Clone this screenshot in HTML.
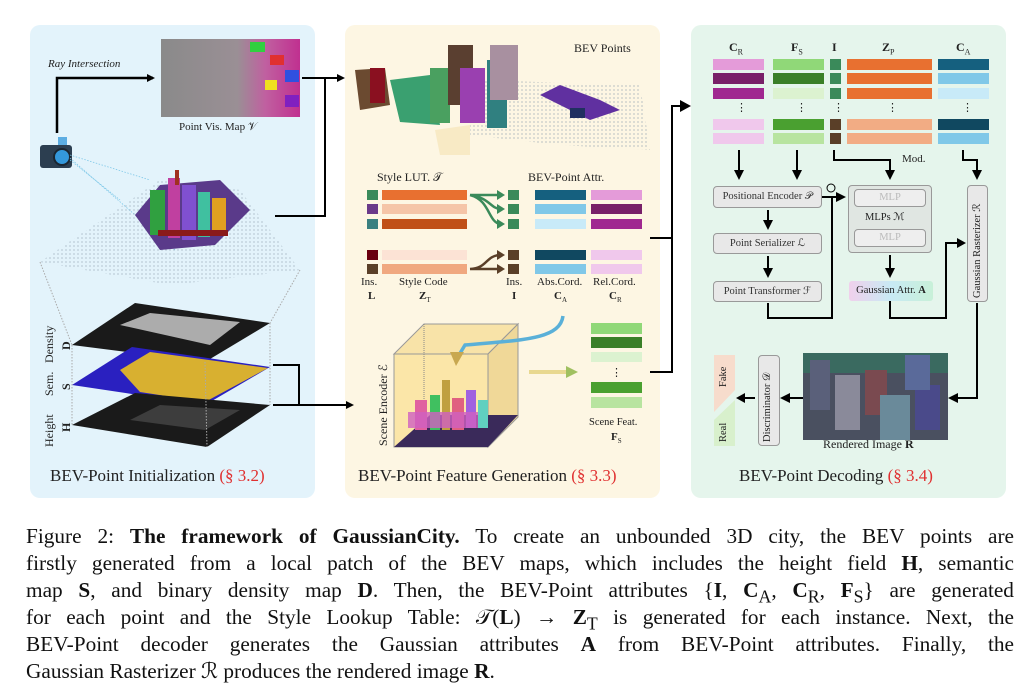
<!DOCTYPE html>
<html><head><meta charset="utf-8"><style>
body{margin:0;width:1031px;height:697px;background:#fff;position:relative;overflow:hidden;font-family:"Liberation Serif",serif;color:#222}
.a{position:absolute}
.t{position:absolute;font-size:11px;white-space:nowrap}
.r{position:absolute;font-size:11px;white-space:nowrap;transform:rotate(-90deg);transform-origin:left top}
.box{position:absolute;background:#e8e8e8;border:1px solid #999;border-radius:4px;font-size:10.5px;text-align:center;box-sizing:border-box;color:#333}
.cap{position:absolute;left:26px;width:988px;font-size:21.3px;text-align:justify;text-align-last:justify;white-space:nowrap;color:#111}
</style></head><body>
<div class="a" style="left:30px;top:25px;width:285px;height:473px;background:#e3f3fb;border-radius:10px"></div>
<div class="a" style="left:345px;top:25px;width:315px;height:473px;background:#fdf6e3;border-radius:10px"></div>
<div class="a" style="left:691px;top:25px;width:315px;height:473px;background:#e5f5ec;border-radius:10px"></div>

<svg class="a" style="left:0;top:0" width="1031" height="697">
<defs><marker id="ar" markerWidth="8" markerHeight="8" refX="6" refY="4" orient="auto" markerUnits="userSpaceOnUse"><path d="M0,0 L8,4 L0,8z" fill="#000"/></marker>
<linearGradient id="ns" x1="0" x2="1"><stop offset="0" stop-color="#8a8a8a"/><stop offset=".55" stop-color="#9a8f95"/><stop offset=".75" stop-color="#c060a0"/><stop offset="1" stop-color="#c03090"/></linearGradient>
<pattern id="dots" width="4" height="4" patternUnits="userSpaceOnUse"><circle cx="2" cy="2" r=".6" fill="#8899aa"/></pattern></defs>
<rect x="161" y="39" width="139" height="78" fill="url(#ns)"/>
<rect x="250" y="42" width="15" height="10" fill="#30d040"/><rect x="270" y="55" width="14" height="10" fill="#e03030"/><rect x="285" y="70" width="14" height="12" fill="#3050e0"/><rect x="265" y="80" width="12" height="10" fill="#f0e020"/><rect x="285" y="95" width="14" height="12" fill="#8020c0"/>
<rect x="40" y="145" width="32" height="23" rx="3" fill="#2c3e50"/><rect x="58" y="137" width="9" height="8" fill="#5dade2"/><circle cx="62" cy="157" r="8" fill="#3498db" stroke="#1b2631" stroke-width="2"/>
<path d="M70,155 L150,180 M70,158 L175,250 M70,160 L120,200" stroke="#7fc8e8" stroke-dasharray="1.5 1.5" stroke-width=".8"/>
<polygon points="40,262 160,180 240,190 300,270 170,285" fill="url(#dots)" opacity=".9"/>
<polygon points="135,215 160,185 220,180 250,210 215,245 160,250" fill="#5a3a8a"/>
<rect x="150" y="190" width="15" height="45" fill="#30a040"/><rect x="168" y="178" width="12" height="60" fill="#c040a0"/><rect x="182" y="185" width="14" height="55" fill="#8050d0"/><rect x="198" y="192" width="12" height="45" fill="#40c0a0"/><rect x="212" y="198" width="14" height="35" fill="#e0a020"/><rect x="175" y="170" width="4" height="15" fill="#a03020"/><rect x="158" y="230" width="70" height="6" fill="#8a1a1a"/>
<polygon points="72,345 135,303 270,323 205,362" fill="#1a1a1a"/>
<polygon points="120,325 150,313 240,322 210,345" fill="#ddd" opacity=".75"/>
<polygon points="72,385 132,347 270,367 205,405" fill="#2a20c0"/>
<polygon points="120,370 150,352 268,368 205,402 140,392" fill="#d8b030"/>
<polygon points="72,425 135,393 270,405 207,447" fill="#1a1a1a"/>
<polygon points="130,420 160,405 240,410 205,430" fill="#555" opacity=".6"/>
<path d="M40,262 L72,345 M300,270 L270,323" stroke="#aaa" stroke-dasharray="1.5 1.5"/>
<path d="M72,345 L72,425 M205,362 L207,447 M270,323 L270,405" stroke="#aaa" stroke-dasharray="1.5 1.5"/>
<path d="M57,133 L57,78 L153,78" stroke="#000" stroke-width="2.5" fill="none" marker-end="url(#ar)"/>
<path d="M275,216 L325,216 L325,78 M302,78 L343,78" stroke="#000" stroke-width="2" fill="none" marker-end="url(#ar)"/>
<path d="M273,365 L299,365 L299,405 M273,405 L352,405" stroke="#000" stroke-width="2" fill="none" marker-end="url(#ar)"/>
<polygon points="470,80 640,85 650,150 560,145 470,135" fill="url(#dots)"/>
<polygon points="355,70 385,68 390,105 360,110" fill="#6b4a30"/><rect x="370" y="68" width="15" height="35" fill="#8a1020"/>
<polygon points="390,80 430,75 440,125 400,122" fill="#3aa070"/><rect x="430" y="68" width="20" height="55" fill="#4aa060"/>
<rect x="448" y="45" width="25" height="60" fill="#5a3f30"/><rect x="460" y="68" width="25" height="55" fill="#9a40b0"/><rect x="487" y="60" width="20" height="68" fill="#308080"/><rect x="490" y="45" width="28" height="55" fill="#a890a0"/>
<polygon points="540,95 560,85 600,100 620,110 590,120" fill="#6030a0"/><rect x="570" y="108" width="15" height="10" fill="#203060"/>
<polygon points="435,130 470,125 470,155 440,155" fill="#f5e6b8" opacity=".7"/>
<g>
<rect x="367" y="190" width="11" height="10" fill="#3a8a5a"/><rect x="367" y="204" width="11" height="10" fill="#6a3a8a"/><rect x="367" y="219" width="11" height="10" fill="#3a8080"/><rect x="367" y="250" width="11" height="10" fill="#6a0010"/><rect x="367" y="264" width="11" height="10" fill="#5a3f28"/>
<rect x="382" y="190" width="85" height="10" fill="#e87030"/><rect x="382" y="204" width="85" height="10" fill="#f5c5a8"/><rect x="382" y="219" width="85" height="10" fill="#c05018"/><rect x="382" y="250" width="85" height="10" fill="#fce3d5"/><rect x="382" y="264" width="85" height="10" fill="#f0a880"/>
<rect x="508" y="190" width="11" height="10" fill="#3a8a5a"/><rect x="508" y="204" width="11" height="10" fill="#3a8a5a"/><rect x="508" y="219" width="11" height="10" fill="#3a8a5a"/><rect x="508" y="250" width="11" height="10" fill="#5a3f28"/><rect x="508" y="264" width="11" height="10" fill="#5a3f28"/>
<rect x="535" y="190" width="51" height="10" fill="#15607f"/><rect x="535" y="204" width="51" height="10" fill="#80c8e8"/><rect x="535" y="219" width="51" height="10" fill="#c8eaf8"/><rect x="535" y="250" width="51" height="10" fill="#104860"/><rect x="535" y="264" width="51" height="10" fill="#80c8e8"/>
<rect x="591" y="190" width="51" height="10" fill="#e49bd9"/><rect x="591" y="204" width="51" height="10" fill="#782068"/><rect x="591" y="219" width="51" height="10" fill="#a02890"/><rect x="591" y="250" width="51" height="10" fill="#f0c8ec"/><rect x="591" y="264" width="51" height="10" fill="#f0c8ec"/>
<path d="M470,195 C485,195 490,195 500,195 M470,195 C490,198 490,208 500,209 M470,195 C490,200 488,222 500,224" stroke="#3a8a5a" stroke-width="2.5" fill="none"/>
<path d="M497,190 L505,195 L497,200z M497,204 L505,209 L497,214z M497,219 L505,224 L497,229z" fill="#3a8a5a"/>
<path d="M470,269 L500,269 M470,269 C488,268 485,256 500,255" stroke="#5a3f28" stroke-width="2.5" fill="none"/>
<path d="M497,264 L505,269 L497,274z M497,250 L505,255 L497,260z" fill="#5a3f28"/>
</g>
<polygon points="394,354 424,324 518,324 488,354" fill="#f8e3a8" stroke="#999"/>
<polygon points="488,354 518,324 518,417 488,447" fill="#f0d898" stroke="#999"/>
<rect x="394" y="354" width="94" height="93" fill="#fbe6a8" stroke="#999"/>
<path d="M424,324 L424,415" stroke="#888" stroke-dasharray="1 1"/>
<polygon points="394,447 430,415 518,415 488,447" fill="#3a2a5a"/>
<rect x="415" y="400" width="12" height="30" fill="#e060a0"/><rect x="430" y="395" width="10" height="35" fill="#40c060"/><rect x="442" y="380" width="8" height="50" fill="#c0a040"/><rect x="452" y="398" width="12" height="32" fill="#e06080"/><rect x="466" y="390" width="10" height="38" fill="#a060e0"/><rect x="478" y="400" width="10" height="28" fill="#60d0c0"/><rect x="408" y="412" width="70" height="16" fill="#d060c0" opacity=".8"/>
<path d="M563,316 C560,340 520,340 465,345 L456,360" stroke="#5ab0d8" stroke-width="3.5" fill="none"/>
<path d="M450,352 L456,366 L464,352z" fill="#c8a850"/>
<path d="M529,372 L568,372" stroke="#e8d890" stroke-width="4"/><path d="M566,366 L578,372 L566,378z" fill="#a0c060"/>
<rect x="591" y="323" width="51" height="11" fill="#90d878"/><rect x="591" y="337" width="51" height="11" fill="#3a7f28"/><rect x="591" y="352" width="51" height="10" fill="#dcf2d0"/><rect x="591" y="382" width="51" height="11" fill="#4aa030"/><rect x="591" y="397" width="51" height="11" fill="#b8e4a0"/>
<path d="M650,238 L672,238 L672,106 L688,106 M650,372 L672,372 L672,238" stroke="#000" stroke-width="2" fill="none"/>
<path d="M680,100 L691,106 L680,112z" fill="#000"/>
<g>
<rect x="713" y="59" width="51" height="11" fill="#e49bd9"/><rect x="713" y="73" width="51" height="11" fill="#782068"/><rect x="713" y="88" width="51" height="11" fill="#a02890"/><rect x="713" y="119" width="51" height="11" fill="#f0c8ec"/><rect x="713" y="133" width="51" height="11" fill="#f0c8ec"/>
<rect x="773" y="59" width="51" height="11" fill="#90d878"/><rect x="773" y="73" width="51" height="11" fill="#3a7f28"/><rect x="773" y="88" width="51" height="11" fill="#dcf2d0"/><rect x="773" y="119" width="51" height="11" fill="#4aa030"/><rect x="773" y="133" width="51" height="11" fill="#b8e4a0"/>
<rect x="830" y="59" width="11" height="11" fill="#3a8a5a"/><rect x="830" y="73" width="11" height="11" fill="#3a8a5a"/><rect x="830" y="88" width="11" height="11" fill="#3a8a5a"/><rect x="830" y="119" width="11" height="11" fill="#5a3f28"/><rect x="830" y="133" width="11" height="11" fill="#5a3f28"/>
<rect x="847" y="59" width="85" height="11" fill="#e87030"/><rect x="847" y="73" width="85" height="11" fill="#e87030"/><rect x="847" y="88" width="85" height="11" fill="#e87030"/><rect x="847" y="119" width="85" height="11" fill="#f2ac84"/><rect x="847" y="133" width="85" height="11" fill="#f2ac84"/>
<rect x="938" y="59" width="51" height="11" fill="#15607f"/><rect x="938" y="73" width="51" height="11" fill="#80c8e8"/><rect x="938" y="88" width="51" height="11" fill="#c8eaf8"/><rect x="938" y="119" width="51" height="11" fill="#104860"/><rect x="938" y="133" width="51" height="11" fill="#80c8e8"/>
</g>
<g stroke="#000" stroke-width="2" fill="none">
<path d="M739,150 L739,172"/><path d="M797,150 L797,172"/><path d="M834,150 L834,160 L890,160 L890,172"/><path d="M963,150 L963,160 L977,160 L977,172"/>
<path d="M768,210 L768,222"/><path d="M768,256 L768,270"/><path d="M890,255 L890,270"/>
<path d="M822,197 L836,197"/><path d="M768,303 L768,318 L832,318 L832,197"/>
<path d="M890,301 L890,318 L946,318 L946,243 L958,243"/>
<path d="M977,303 L977,398 L955,398"/>
<path d="M803,398 L788,398"/><path d="M755,398 L742,398"/>
</g>
<g fill="#000">
<path d="M734,170 L739,180 L744,170z M792,170 L797,180 L802,170z M885,170 L890,180 L895,170z M972,170 L977,180 L982,170z"/>
<path d="M763,220 L768,230 L773,220z M763,268 L768,278 L773,268z M885,268 L890,278 L895,268z"/>
<path d="M836,192 L846,197 L836,202z M957,238 L966,243 L957,248z M958,393 L948,398 L958,403z M790,393 L780,398 L790,403z M745,393 L736,398 L745,403z"/>
</g>
<circle cx="831" cy="188" r="4" fill="none" stroke="#000"/>
<rect x="803" y="353" width="145" height="87" fill="#4a5060"/>
<rect x="803" y="353" width="145" height="20" fill="#3a6a60"/>
<rect x="810" y="360" width="20" height="50" fill="#5a607a"/><rect x="835" y="375" width="25" height="55" fill="#8a8a9a"/><rect x="865" y="370" width="22" height="45" fill="#7a4a50"/><rect x="880" y="395" width="30" height="45" fill="#6a8a9a"/><rect x="915" y="385" width="25" height="45" fill="#4a4a8a"/><rect x="905" y="355" width="25" height="35" fill="#5a6a9a"/>
<path d="M714,355 L735,355 L735,390 L714,412z" fill="#f7dccc"/>
<path d="M735,400 L735,446 L714,446 L714,420z" fill="#d8f0cc"/>
</svg>

<div class="t" style="left:48px;top:58px;font-style:italic">Ray Intersection</div>
<div class="t" style="left:179px;top:121px">Point Vis. Map 𝒱</div>
<div class="r" style="left:42px;top:447px;font-size:12px">Height</div>
<div class="r" style="left:59px;top:432px;font-size:12px;font-weight:bold">H</div>
<div class="r" style="left:42px;top:396px;font-size:12px">Sem.</div>
<div class="r" style="left:59px;top:390px;font-size:12px;font-weight:bold">S</div>
<div class="r" style="left:42px;top:363px;font-size:12px">Density</div>
<div class="r" style="left:59px;top:350px;font-size:12px;font-weight:bold">D</div>
<div class="t" style="left:50px;top:466px;font-size:17px">BEV-Point Initialization <span style="color:#e03030">(§ 3.2)</span></div>

<div class="t" style="left:574px;top:41px;font-size:12px">BEV Points</div>
<div class="t" style="left:377px;top:170px;font-size:12px">Style LUT. 𝒯</div>
<div class="t" style="left:528px;top:170px;font-size:12px">BEV-Point Attr.</div>
<div class="t" style="left:361px;top:276px">Ins.</div><div class="t" style="left:399px;top:276px">Style Code</div><div class="t" style="left:506px;top:276px">Ins.</div><div class="t" style="left:537px;top:276px">Abs.Cord.</div><div class="t" style="left:593px;top:276px">Rel.Cord.</div>
<div class="t" style="left:368px;top:290px;font-weight:bold">L</div><div class="t" style="left:419px;top:290px;font-weight:bold">Z<sub style="font-size:7px;font-weight:normal">T</sub></div><div class="t" style="left:512px;top:290px;font-weight:bold">I</div><div class="t" style="left:554px;top:290px;font-weight:bold">C<sub style="font-size:7px;font-weight:normal">A</sub></div><div class="t" style="left:609px;top:290px;font-weight:bold">C<sub style="font-size:7px;font-weight:normal">R</sub></div>
<div class="r" style="left:376px;top:446px;font-size:12px">Scene Encoder ℰ</div>
<div class="t" style="left:589px;top:417px;font-size:10.5px">Scene Feat.</div><div class="t" style="left:611px;top:431px;font-weight:bold">F<sub style="font-size:7px;font-weight:normal">S</sub></div>
<div class="t" style="left:358px;top:466px;font-size:17px">BEV-Point Feature Generation <span style="color:#e03030">(§ 3.3)</span></div>
<div class="t" style="left:611px;top:366px">⋮</div>

<div class="t" style="left:729px;top:40px;font-weight:bold;font-size:12px">C<sub style="font-size:8px;font-weight:normal">R</sub></div>
<div class="t" style="left:791px;top:40px;font-weight:bold;font-size:12px">F<sub style="font-size:8px;font-weight:normal">S</sub></div>
<div class="t" style="left:832px;top:40px;font-weight:bold;font-size:12px">I</div>
<div class="t" style="left:882px;top:40px;font-weight:bold;font-size:12px">Z<sub style="font-size:8px;font-weight:normal">P</sub></div>
<div class="t" style="left:956px;top:40px;font-weight:bold;font-size:12px">C<sub style="font-size:8px;font-weight:normal">A</sub></div>
<div class="t" style="left:736px;top:101px">⋮</div><div class="t" style="left:796px;top:101px">⋮</div><div class="t" style="left:833px;top:101px">⋮</div><div class="t" style="left:887px;top:101px">⋮</div><div class="t" style="left:962px;top:101px">⋮</div>
<div class="t" style="left:902px;top:153px">Mod.</div>
<div class="box" style="left:713px;top:186px;width:109px;height:22px;line-height:20px">Positional Encoder 𝒫</div>
<div class="box" style="left:713px;top:233px;width:109px;height:21px;line-height:19px">Point Serializer ℒ</div>
<div class="box" style="left:713px;top:281px;width:109px;height:21px;line-height:19px">Point Transformer ℱ</div>
<div class="box" style="left:848px;top:185px;width:84px;height:68px;background:#e0e6e2"></div>
<div class="box" style="left:854px;top:189px;width:72px;height:18px;line-height:16px;background:#eee;color:#bbb">MLP</div>
<div class="box" style="left:854px;top:229px;width:72px;height:18px;line-height:16px;background:#eee;color:#bbb">MLP</div>
<div class="t" style="left:865px;top:211px;font-size:10.5px">MLPs ℳ</div>
<div class="a" style="left:849px;top:281px;width:84px;height:20px;background:linear-gradient(90deg,#f0d0ec,#c8eaf4,#c8f0d8);border-radius:3px;font-size:10.5px;text-align:center;line-height:20px">Gaussian Attr. <b>A</b></div>
<div class="box" style="left:967px;top:185px;width:21px;height:117px"></div>
<div class="r" style="left:971px;top:298px;font-size:10.5px">Gaussian Rasterizer ℛ</div>
<div class="box" style="left:758px;top:355px;width:22px;height:91px"></div>
<div class="r" style="left:762px;top:442px;font-size:10.5px">Discriminator 𝒟</div>
<div class="r" style="left:718px;top:387px;font-size:10.5px">Fake</div>
<div class="r" style="left:718px;top:442px;font-size:10.5px">Real</div>
<div class="t" style="left:823px;top:437px;font-size:12px">Rendered Image <b>R</b></div>
<div class="t" style="left:739px;top:466px;font-size:17px">BEV-Point Decoding <span style="color:#e03030">(§ 3.4)</span></div>

<div class="cap" style="top:524px">Figure 2: <b>The framework of GaussianCity.</b> To create an unbounded 3D city, the BEV points are</div>
<div class="cap" style="top:551px">firstly generated from a local patch of the BEV maps, which includes the height field <b>H</b>, semantic</div>
<div class="cap" style="top:578px">map <b>S</b>, and binary density map <b>D</b>. Then, the BEV-Point attributes {<b>I</b>, <b>C</b><sub>A</sub>, <b>C</b><sub>R</sub>, <b>F</b><sub>S</sub>} are generated</div>
<div class="cap" style="top:605px">for each point and the Style Lookup Table: 𝒯(<b>L</b>) → <b>Z</b><sub>T</sub> is generated for each instance. Next, the</div>
<div class="cap" style="top:632px">BEV-Point decoder generates the Gaussian attributes <b>A</b> from BEV-Point attributes. Finally, the</div>
<div class="cap" style="top:659px;text-align-last:left">Gaussian Rasterizer ℛ produces the rendered image <b>R</b>.</div>
</body></html>
